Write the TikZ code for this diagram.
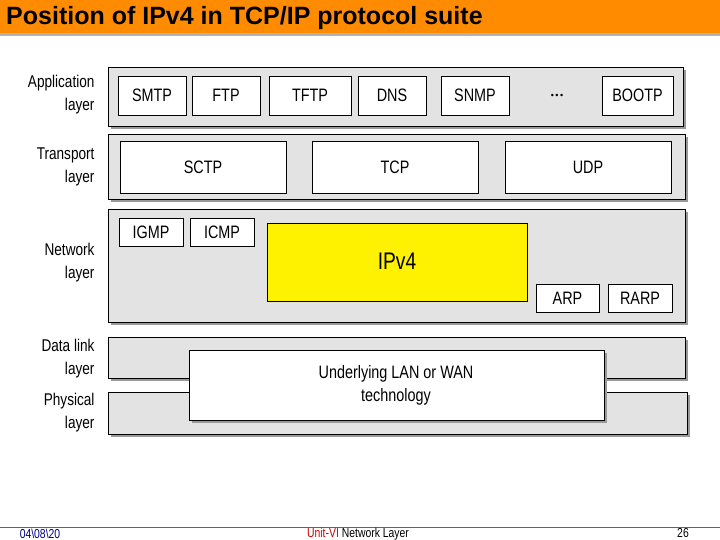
\documentclass[tikz,border=0pt]{standalone}
\usepackage{fontspec}
\setmainfont{Liberation Sans}
\newfontfamily\cond[FakeStretch=0.8]{Liberation Sans}
\begin{document}
\begin{tikzpicture}[x=1pt,y=-1pt,
  pbox/.style={draw=black,line width=0.7pt,fill=white},
  lbl/.style={font=\cond\fontsize{17}{23}\selectfont,align=right,anchor=east},
  txt/.style={font=\cond\fontsize{18}{23}\selectfont}]
\useasboundingbox (0,0) rectangle (720,540);
\fill[white] (0,0) rectangle (720,540);
% header
\fill[gray!60] (0,33) rectangle (720,36);
\fill[orange!90!yellow] (0,0) rectangle (720,33);
\node[anchor=west,font=\bfseries\fontsize{25}{27}\selectfont,inner sep=0pt] (title) at (6,18) {Position of IPv4 in TCP/IP protocol suite};
% shadows + layers
\foreach \a/\b/\c/\d/\n in {108/67/683/126/la,108/134/685/199/lt,108/209/685/322/ln,108/337/685/378/ld,108/392/687/434/lp}{
  \fill[gray!80] (\a+3,\b+3) rectangle (\c+3,\d+3);
  \draw[line width=0.9pt,fill=gray!22] (\a,\b) rectangle (\c,\d);
}
% application
\foreach \a/\c/\t in {118/186/SMTP,192/260/FTP,269/351/TFTP,358/426/DNS,441/509/SNMP,602/673/BOOTP}{
  \draw[pbox] (\a,76) rectangle (\c,115);
  \node[txt] (n\t) at ({(\a+\c)/2},95.5) {\t};
}
\node[font=\fontsize{9}{10}\selectfont] (dots) at (557,96) {•\,•\,•};
% transport
\foreach \a/\c/\t in {120/286/SCTP,312/478/TCP,505/671/UDP}{
  \draw[pbox] (\a,141) rectangle (\c,193);
  \node[txt] (n\t) at ({(\a+\c)/2},167) {\t};
}
% network
\foreach \a/\c/\t in {119/183/IGMP,190/254/ICMP}{
  \draw[pbox] (\a,218) rectangle (\c,246);
  \node[txt] (n\t) at ({(\a+\c)/2},232) {\t};
}
\draw[line width=0.7pt,fill=yellow] (267,223) rectangle (527,301);
\node[txt,font=\cond\fontsize{24}{26}\selectfont] (ipv4) at (397,261) {IPv4};
\foreach \a/\c/\t in {536/599/ARP,608/672/RARP}{
  \draw[pbox] (\a,284) rectangle (\c,312);
  \node[txt] (n\t) at ({(\a+\c)/2},298) {\t};
}
% underlying
\fill[gray!80] (192,353) rectangle (607,423);
\draw[pbox] (189,350) rectangle (604,420);
\node[txt,align=center] (under) at (396,385) {Underlying LAN or WAN\\technology};
% labels
\node[lbl] (l1) at (98,95) {Application\\layer};
\node[lbl] (l2) at (98,167) {Transport\\layer};
\node[lbl] (l3) at (98,263) {Network\\layer};
\node[lbl] (l4) at (98,359) {Data link\\layer};
\node[lbl] (l5) at (98,413) {Physical\\layer};
% footer
\draw[red!70!orange,line width=0.8pt] (0,527) -- (720,527);
\node[font=\cond\fontsize{13}{14}\selectfont,text=blue!50!black] (date) at (40,534) {04\textbackslash 08\textbackslash 20};
\node[font=\cond\fontsize{13}{14}\selectfont] (unit) at (358,534) {\textcolor{red!80!black}{Unit-VI} Network Layer};
\node[font=\cond\fontsize{13}{14}\selectfont] (pg) at (683,533) {26};
\end{tikzpicture}
\end{document}
